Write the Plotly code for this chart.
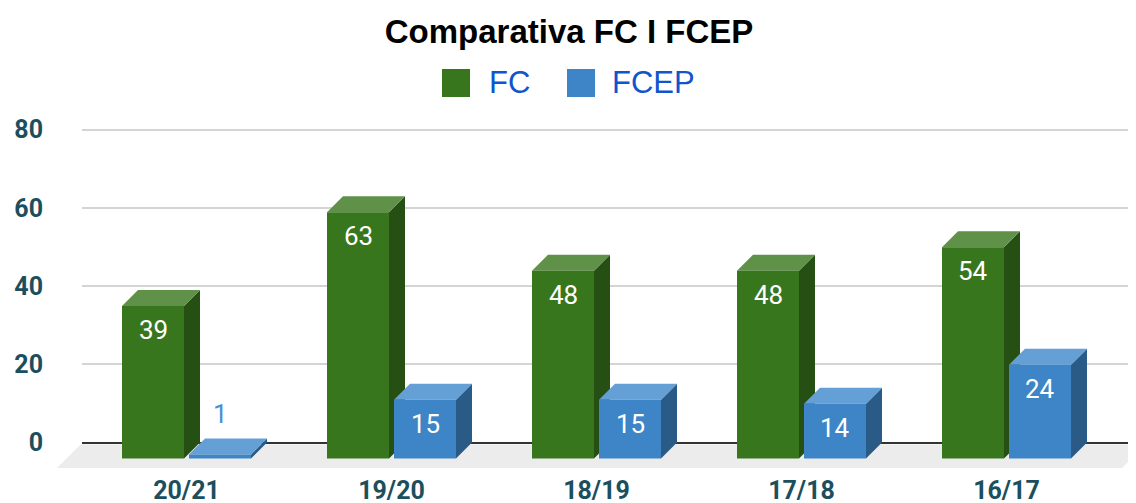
import plotly.graph_objects as go

# ---------------- data ----------------
categories = ["20/21", "19/20", "18/19", "17/18", "16/17"]
fc_values = [39, 63, 48, 48, 54]
fcep_values = [1, 15, 15, 14, 24]
series_names = ["FC", "FCEP"]
y_ticks = [0, 20, 40, 60, 80]
title_text = "Comparativa FC I FCEP"

# ---------------- styles ----------------
front_colors = ["#38761d", "#3d85c6"]
top_colors = ["#5f9149", "#649fd6"]
side_colors = ["#264f13", "#2a5a86"]
label_outside_colors = ["#38761d", "#4a8fd6"]
axis_text_color = "#1b4f5e"

# ---------------- geometry (window pixels) ----------------
W, H = 1136, 503
PAGE_OFFSET = 8.0        # default page body margin of the html file
CAT_W = 205.0            # pixels per category
FRONT_X0 = 84.0          # pixel of x = -0.5 on the front plane
FRONT_ZERO = 458.5       # pixel of value 0 on the front plane
PX_UNIT = 3.91           # pixels per value unit
DEPTH = 16.0             # 3-D depth offset (px, right & up)
PLOT_TOP, PLOT_BOTTOM = 100.0, 470.0
BACK_X_START, BACK_X_END = 82.0, 1144.0
FRONT_X_END = 1109.0
BAR_W = 62.0 / CAT_W
OFFSETS = [-64.5 / CAT_W, 2.5 / CAT_W]

dX = DEPTH / CAT_W
dY = DEPTH / PX_UNIT

n = len(categories)
xs = list(range(n))

def px2fx(p):
    return (p - PAGE_OFFSET) / W

def py2fy(p):
    return 1 - (p - PAGE_OFFSET) / H

# axis ranges derived from geometry
front_x_range = [-0.5, -0.5 + (FRONT_X_END - FRONT_X0) / CAT_W]
front_y_range = [(FRONT_ZERO - PLOT_BOTTOM) / PX_UNIT, (FRONT_ZERO - PLOT_TOP) / PX_UNIT]
back_zero = FRONT_ZERO - DEPTH
back_x_range = [(BACK_X_START - FRONT_X0 - DEPTH) / CAT_W - 0.5,
                (BACK_X_END - FRONT_X0 - DEPTH) / CAT_W - 0.5]
back_y_range = [(back_zero - PLOT_BOTTOM) / PX_UNIT, (back_zero - PLOT_TOP) / PX_UNIT]

fig = go.Figure()

series = [fc_values, fcep_values]

# ---- 3-D side & top faces on the back subplot (x/y), green first ----
for s, vals in enumerate(series):
    for i, v in enumerate(vals):
        L = xs[i] + OFFSETS[s]
        R = L + BAR_W
        # side face
        fig.add_trace(go.Scatter(
            x=[R - dX, R - dX, R, R, R - dX],
            y=[-dY, v - dY, v, 0, -dY],
            mode="lines", fill="toself", fillcolor=side_colors[s],
            line=dict(width=0, color=side_colors[s]),
            hoverinfo="skip", showlegend=False, xaxis="x", yaxis="y"))
        # top face
        fig.add_trace(go.Scatter(
            x=[L - dX, R - dX, R, L, L - dX],
            y=[v - dY, v - dY, v, v, v - dY],
            mode="lines", fill="toself", fillcolor=top_colors[s],
            line=dict(width=0, color=top_colors[s]),
            hoverinfo="skip", showlegend=False, xaxis="x", yaxis="y"))

# ---- front faces as bars on the front subplot (x2/y2) ----
for s, vals in enumerate(series):
    fig.add_trace(go.Bar(
        x=xs, y=vals, name=series_names[s],
        width=BAR_W, offset=OFFSETS[s],
        marker=dict(color=front_colors[s], line=dict(width=0)),
        showlegend=False, xaxis="x2", yaxis="y2"))

# ---- data labels ----
annotations = []
for s, vals in enumerate(series):
    for i, v in enumerate(vals):
        cx = xs[i] + OFFSETS[s] + BAR_W / 2
        inside = v * PX_UNIT > 40
        annotations.append(dict(
            x=cx, y=v, xref="x2", yref="y2", text=str(v), showarrow=False,
            yanchor="middle", xanchor="center",
            yshift=-24 if inside else 41,
            font=dict(family="Roboto", size=26,
                      color="#ffffff" if inside else label_outside_colors[s])))

# ---- manual legend ----
legend_items = [(442.0, 487.0), (567.0, 610.0)]
shapes = []
for s, name in enumerate(series_names):
    bx, tx = legend_items[s]
    shapes.append(dict(type="rect", xref="paper", yref="paper",
                       x0=px2fx(bx), x1=px2fx(bx + 28), y0=py2fy(97), y1=py2fy(69),
                       fillcolor=front_colors[s], line=dict(width=0), layer="above"))
    annotations.append(dict(x=px2fx(tx), y=py2fy(82), xref="paper", yref="paper",
                            text=name, showarrow=False, xanchor="left", yanchor="middle",
                            font=dict(family="Liberation Sans", size=31, color="#1155cc")))

# ---- floor ----
FLOOR_TOP, FLOOR_BOTTOM, FLOOR_LEFT = 444.5, 468.0, 57.0
slant = FLOOR_BOTTOM - FLOOR_TOP
floor_right = 1122.0
path = "M {} {} L {} {} L {} {} L {} {} Z".format(
    px2fx(FLOOR_LEFT), py2fy(FLOOR_BOTTOM),
    px2fx(FLOOR_LEFT + slant), py2fy(FLOOR_TOP),
    px2fx(floor_right + slant), py2fy(FLOOR_TOP),
    px2fx(floor_right), py2fy(FLOOR_BOTTOM))
shapes.append(dict(type="path", path=path, xref="paper", yref="paper",
                   fillcolor="#ececec", line=dict(width=0), layer="below"))

fig.update_layout(
    width=W, height=H, autosize=False,
    margin=dict(l=0, r=0, t=0, b=0, pad=0),
    paper_bgcolor="#ffffff", plot_bgcolor="rgba(0,0,0,0)",
    barmode="overlay",
    title=dict(text="<b>" + title_text + "</b>", x=px2fx(569.0), xanchor="center",
               y=py2fy(31), yanchor="middle", yref="paper", automargin=False,
               font=dict(family="Liberation Sans", size=33, color="#000000")),
    xaxis=dict(domain=[px2fx(BACK_X_START), min(1.0, px2fx(BACK_X_END))], range=back_x_range,
               showgrid=False, zeroline=False, showticklabels=False, showline=False,
               automargin=False, fixedrange=True),
    yaxis=dict(domain=[py2fy(PLOT_BOTTOM), py2fy(PLOT_TOP)], range=back_y_range,
               tickvals=y_ticks, ticktext=["<b>%d</b>" % t for t in y_ticks],
               showgrid=True, gridcolor="#d4d4d4", gridwidth=2,
               zeroline=True, zerolinecolor="#333333", zerolinewidth=2,
               showline=False, ticks="", ticklabelstandoff=38, automargin=False,
               tickfont=dict(family="Roboto", size=25, color=axis_text_color),
               fixedrange=True),
    xaxis2=dict(domain=[px2fx(FRONT_X0), px2fx(FRONT_X_END)], range=front_x_range,
                anchor="y2", tickvals=xs, ticktext=["<b>" + c + "</b>" for c in categories],
                showgrid=False, zeroline=False, showline=False, ticks="",
                ticklabelstandoff=3, automargin=False,
                tickfont=dict(family="Roboto", size=25, color=axis_text_color),
                fixedrange=True),
    yaxis2=dict(domain=[py2fy(PLOT_BOTTOM), py2fy(PLOT_TOP)], range=front_y_range,
                anchor="x2", showgrid=False, zeroline=False, showticklabels=False,
                showline=False, automargin=False, fixedrange=True),
    annotations=annotations,
    shapes=shapes,
)

fig.write_html("out.html")
